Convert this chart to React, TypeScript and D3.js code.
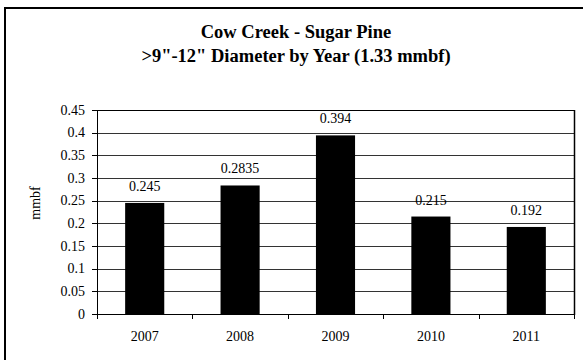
import * as d3 from 'd3'

const years = ['2007', '2008', '2009', '2010', '2011']
const values = [0.245, 0.2835, 0.394, 0.215, 0.192]
const valueLabels = ['0.245', '0.2835', '0.394', '0.215', '0.192']
const yTicks = [0, 0.05, 0.1, 0.15, 0.2, 0.25, 0.3, 0.35, 0.4, 0.45]

const titleLines = ['Cow Creek - Sugar Pine', '>9"-12" Diameter by Year (1.33 mmbf)']

export default function App() {
  const width = 583
  const height = 360
  const plot = { left: 97, right: 574, top: 110, bottom: 314 }
  const font = '"Liberation Serif", "Times New Roman", serif'

  const x = d3.scaleBand<string>()
    .domain(years)
    .range([plot.left, plot.right])
    .paddingInner(0.59)
    .paddingOuter(0.295)

  const y = d3.scaleLinear()
    .domain([0, 0.45])
    .range([plot.bottom, plot.top])

  // band boundaries for x tick marks
  const step = (plot.right - plot.left) / years.length
  const xTickPos = d3.range(years.length + 1).map(i => plot.left + i * step)

  return (
    <svg
      width={width}
      height={height}
      style={{ position: 'absolute', left: 0, top: 0, fontFamily: font }}
    >
      <rect x={0} y={0} width={width} height={height} fill="#fff" />
      {/* outer chart border */}
      <rect x={5} y={8} width={700} height={500} fill="none" stroke="#000" strokeWidth={2} />

      {titleLines.map((t, i) => (
        <text
          key={t}
          x={296}
          y={38 + i * 24}
          textAnchor="middle"
          fontSize={18.5}
          fontWeight="bold"
          fill="#000"
        >
          {t}
        </text>
      ))}

      {/* gridlines */}
      {yTicks.map(t => (
        <line
          key={t}
          x1={plot.left}
          x2={plot.right}
          y1={Math.round(y(t)) + 0.5}
          y2={Math.round(y(t)) + 0.5}
          stroke="#333"
          strokeWidth={1}
        />
      ))}

      {/* bars */}
      {years.map((yr, i) => (
        <rect
          key={yr}
          x={x(yr)}
          y={y(values[i])}
          width={x.bandwidth()}
          height={plot.bottom - y(values[i])}
          fill="#000"
        />
      ))}

      {/* value labels */}
      {years.map((yr, i) => (
        <text
          key={'v' + yr}
          x={(x(yr) ?? 0) + x.bandwidth() / 2}
          y={y(values[i]) - 12}
          textAnchor="middle"
          fontSize={14}
          fill="#000"
        >
          {valueLabels[i]}
        </text>
      ))}

      {/* plot frame */}
      <line x1={plot.left + 0.5} x2={plot.left + 0.5} y1={plot.top} y2={plot.bottom + 1} stroke="#000" />
      <line x1={plot.right + 0.5} x2={plot.right + 0.5} y1={plot.top} y2={plot.bottom + 1} stroke="#000" strokeWidth={1.5} />
      <line x1={plot.left} x2={plot.right + 1} y1={plot.top + 0.5} y2={plot.top + 0.5} stroke="#000" />
      <line x1={plot.left} x2={plot.right + 1} y1={plot.bottom + 0.5} y2={plot.bottom + 0.5} stroke="#000" />

      {/* y ticks and labels */}
      {yTicks.map(t => (
        <g key={'yt' + t}>
          <line
            x1={plot.left - 5}
            x2={plot.left}
            y1={Math.round(y(t)) + 0.5}
            y2={Math.round(y(t)) + 0.5}
            stroke="#000"
          />
          <text
            x={plot.left - 12}
            y={y(t) + 4.5}
            textAnchor="end"
            fontSize={14}
            fill="#000"
          >
            {String(t)}
          </text>
        </g>
      ))}

      {/* x ticks */}
      {xTickPos.map((p, i) => (
        <line
          key={'xt' + i}
          x1={Math.round(p) + 0.5}
          x2={Math.round(p) + 0.5}
          y1={plot.bottom}
          y2={plot.bottom + 5}
          stroke="#000"
        />
      ))}
      {years.map(yr => (
        <text
          key={'xl' + yr}
          x={(x(yr) ?? 0) + x.bandwidth() / 2}
          y={341}
          textAnchor="middle"
          fontSize={14}
          fill="#000"
        >
          {yr}
        </text>
      ))}

      <text
        transform={`translate(40, 203) rotate(-90)`}
        textAnchor="middle"
        fontSize={14}
        fill="#000"
      >
        mmbf
      </text>
    </svg>
  )
}
